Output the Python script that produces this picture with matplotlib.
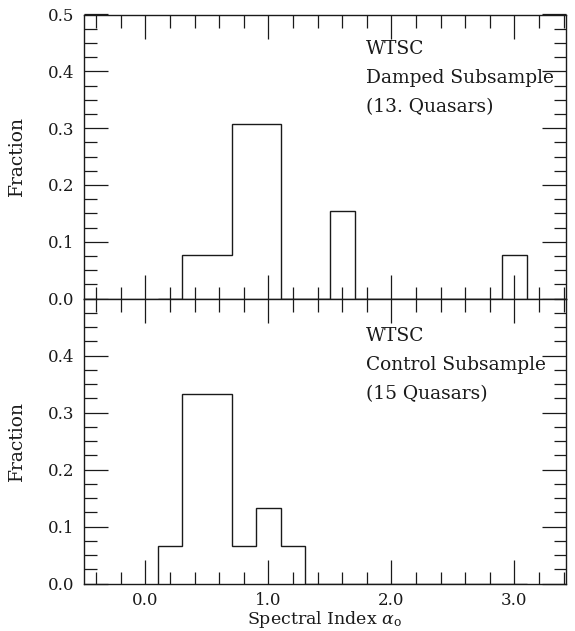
import numpy as np
import matplotlib
matplotlib.use("Agg")
import matplotlib.pyplot as plt
from matplotlib.ticker import MultipleLocator, FormatStrFormatter

# ---- data ----
bin_edges = [0.1, 0.3, 0.5, 0.7, 0.9, 1.1, 1.3, 1.5, 1.7, 1.9, 2.1, 2.3, 2.5, 2.7, 2.9, 3.1]
damped_counts = [0, 1, 1, 4, 4, 0, 0, 2, 0, 0, 0, 0, 0, 0, 1]
control_counts = [1, 5, 5, 1, 2, 1, 0, 0, 0, 0, 0, 0, 0, 0, 0]
n_damped = 13
n_control = 15
damped_text = ["WTSC", "Damped Subsample", "(13. Quasars)"]
control_text = ["WTSC", "Control Subsample", "(15 Quasars)"]

plt.rcParams['font.family'] = ['DejaVu Serif']
plt.rcParams['mathtext.fontset'] = 'dejavuserif'

W, H = 575, 631
fig = plt.figure(figsize=(W / 100, H / 100), dpi=100)

L, R = 84, 566
def axpos(top, bottom):
    return [L / W, (H - bottom) / H, (R - L) / W, (bottom - top) / H]

ax1 = fig.add_axes(axpos(14.5, 298.5))
ax2 = fig.add_axes(axpos(298.5, 583.5))

col = '#1a1a1a'
for ax, counts, n, txt, y0 in [
        (ax1, damped_counts, n_damped, damped_text, 0.862),
        (ax2, control_counts, n_control, control_text, 0.852)]:
    frac = np.array(counts) / n
    ax.stairs(frac, bin_edges, color=col, linewidth=1.0, baseline=0)
    ax.set_xlim(-0.5, 3.42)
    ax.set_ylim(0, 0.5)
    ax.xaxis.set_major_locator(MultipleLocator(1.0))
    ax.xaxis.set_minor_locator(MultipleLocator(0.2))
    ax.yaxis.set_major_locator(MultipleLocator(0.1))
    ax.yaxis.set_minor_locator(MultipleLocator(0.025))
    ax.tick_params(which='both', direction='in', top=True, right=True,
                   colors=col, labelcolor=col, width=0.9, labelsize=12)
    ax.tick_params(which='major', length=17)
    ax.tick_params(which='minor', length=9)
    ax.yaxis.set_major_formatter(FormatStrFormatter('%.1f'))
    ax.xaxis.set_major_formatter(FormatStrFormatter('%.1f'))
    for s in ax.spines.values():
        s.set_linewidth(1.0)
        s.set_color(col)
    ax.set_ylabel('Fraction', fontsize=13.5, color=col, va='center')
    ax.yaxis.set_label_coords((17 - L) / (R - L), 0.5)
    for i, t in enumerate(txt):
        ax.text((366 - L) / (R - L), y0 - i * 0.103, t, transform=ax.transAxes,
                fontsize=13.4, color=col, ha='left', va='baseline')

ax1.tick_params(labelbottom=False)
ax1.tick_params(axis='y', which='major', pad=7)
ax2.tick_params(axis='y', which='major', pad=7)
ax2.tick_params(axis='x', which='major', pad=6)
ax2.set_yticks([0.0, 0.1, 0.2, 0.3, 0.4])
ax2.set_ylim(0, 0.5)
ax2.set_xlabel(r'Spectral Index $\alpha_\mathrm{o}$', fontsize=12.5, color=col, labelpad=0)

fig.savefig('out.png', dpi=100)
